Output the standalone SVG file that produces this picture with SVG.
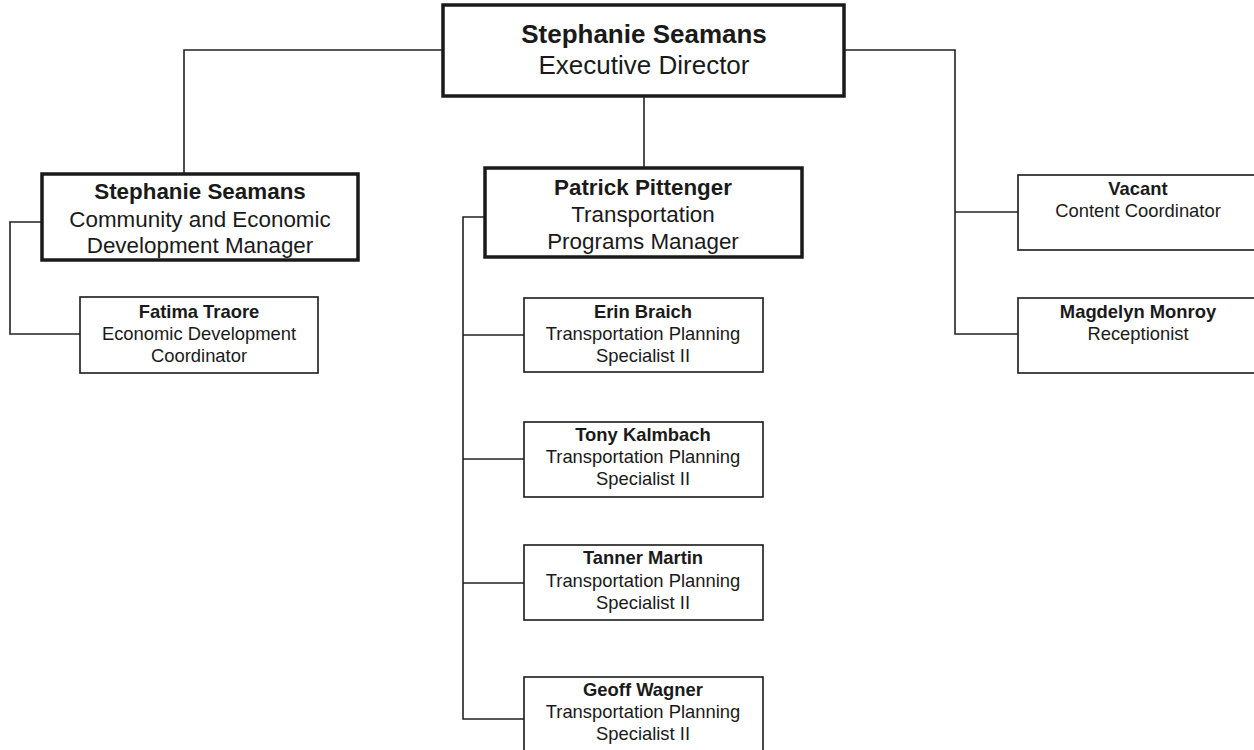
<svg xmlns="http://www.w3.org/2000/svg" width="1254" height="750" viewBox="0 0 1254 750">
<style>
  text { font-family: "Liberation Sans", Arial, sans-serif; fill: #1a1a1a; text-anchor: middle; }
  .b { font-weight: bold; }
  .thick { fill: #fff; stroke: #1a1a1a; stroke-width: 3.5; }
  .thin { fill: #fff; stroke: #1a1a1a; stroke-width: 1.6; }
  .conn { fill: none; stroke: #222; stroke-width: 1.6; }
  .t24 { font-size: 26px; }
  .t20 { font-size: 22.4px; }
  .t16 { font-size: 18.4px; }
</style>
<rect width="1254" height="750" fill="#fff"/>
<g id="connectors">
  <polyline class="conn" points="443,50 184,50 184,174"/>
  <polyline class="conn" points="844,50 955,50 955,334 1018,334"/>
  <line class="conn" x1="955" y1="212" x2="1018" y2="212"/>
  <line class="conn" x1="644" y1="97" x2="644" y2="168"/>
  <polyline class="conn" points="42,222 10,222 10,334 80,334"/>
  <polyline class="conn" points="485,217 463,217 463,719 524,719"/>
  <line class="conn" x1="463" y1="335" x2="524" y2="335"/>
  <line class="conn" x1="463" y1="459" x2="524" y2="459"/>
  <line class="conn" x1="463" y1="583" x2="524" y2="583"/>
</g>
<g id="exec">
  <rect class="thick" x="443" y="5" width="401" height="91"/>
  <text class="b t24" x="644" y="43">Stephanie Seamans</text>
  <text class="t24" x="644" y="74">Executive Director</text>
</g>
<g id="ced-manager">
  <rect class="thick" x="42" y="174" width="316" height="86"/>
  <text class="b t20" x="200" y="199">Stephanie Seamans</text>
  <text class="t20" x="200" y="227">Community and Economic</text>
  <text class="t20" x="200" y="253">Development Manager</text>
</g>
<g id="fatima">
  <rect class="thin" x="80" y="297" width="238" height="76"/>
  <text class="b t16" x="199" y="318">Fatima Traore</text>
  <text class="t16" x="199" y="340">Economic Development</text>
  <text class="t16" x="199" y="362">Coordinator</text>
</g>
<g id="tp-manager">
  <rect class="thick" x="485" y="168" width="317" height="89"/>
  <text class="b t20" x="643" y="195">Patrick Pittenger</text>
  <text class="t20" x="643" y="222">Transportation</text>
  <text class="t20" x="643" y="249">Programs Manager</text>
</g>
<g id="erin">
  <rect class="thin" x="524" y="298" width="239" height="74"/>
  <text class="b t16" x="643" y="318">Erin Braich</text>
  <text class="t16" x="643" y="340">Transportation Planning</text>
  <text class="t16" x="643" y="362">Specialist II</text>
</g>
<g id="tony">
  <rect class="thin" x="524" y="422" width="239" height="75"/>
  <text class="b t16" x="643" y="441">Tony Kalmbach</text>
  <text class="t16" x="643" y="463">Transportation Planning</text>
  <text class="t16" x="643" y="485">Specialist II</text>
</g>
<g id="tanner">
  <rect class="thin" x="524" y="545" width="239" height="75"/>
  <text class="b t16" x="643" y="564">Tanner Martin</text>
  <text class="t16" x="643" y="587">Transportation Planning</text>
  <text class="t16" x="643" y="609">Specialist II</text>
</g>
<g id="geoff">
  <rect class="thin" x="524" y="677" width="239" height="80"/>
  <text class="b t16" x="643" y="696">Geoff Wagner</text>
  <text class="t16" x="643" y="718">Transportation Planning</text>
  <text class="t16" x="643" y="740">Specialist II</text>
</g>
<g id="vacant">
  <rect class="thin" x="1018" y="175" width="242" height="75"/>
  <text class="b t16" x="1138" y="195">Vacant</text>
  <text class="t16" x="1138" y="217">Content Coordinator</text>
</g>
<g id="magdelyn">
  <rect class="thin" x="1018" y="298" width="242" height="75"/>
  <text class="b t16" x="1138" y="318">Magdelyn Monroy</text>
  <text class="t16" x="1138" y="340">Receptionist</text>
</g>
</svg>
